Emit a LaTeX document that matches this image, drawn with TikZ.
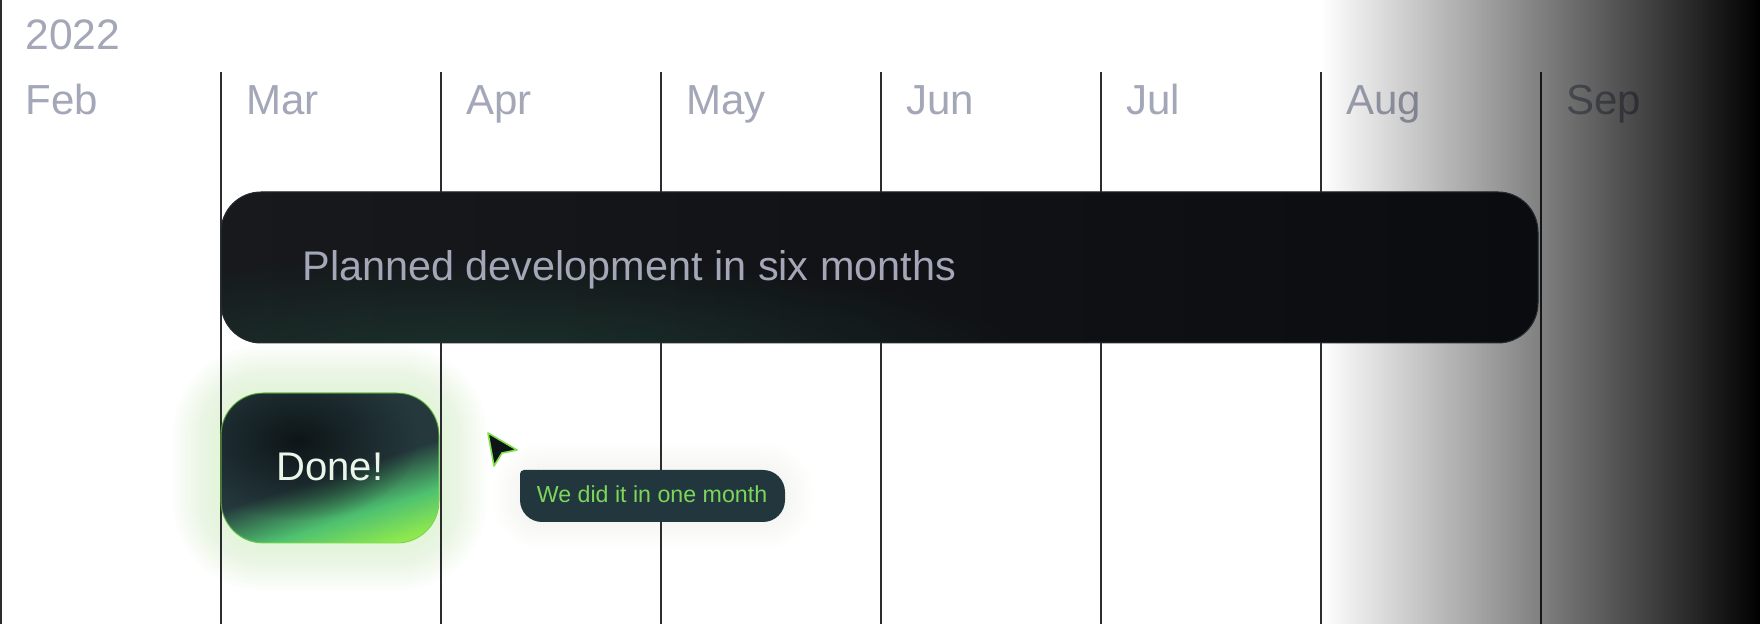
\documentclass[tikz,border=0pt]{standalone}
\usepackage{fontspec}
\setmainfont{Liberation Sans}
\usetikzlibrary{positioning}
\usetikzlibrary{calc}
\usetikzlibrary{fadings}

\definecolor{labelgray}{HTML}{A3A7B7}
\definecolor{lineDark}{HTML}{2B2C30}
\definecolor{planTop}{HTML}{17191C}
\definecolor{planRight}{HTML}{0B0C0F}
\definecolor{planTint}{HTML}{1D3B32}
\definecolor{planEdge}{HTML}{262C31}
\definecolor{doneTeal}{HTML}{25393D}
\definecolor{doneMid}{HTML}{4FC270}
\definecolor{doneGreen}{HTML}{8EE84E}
\definecolor{doneDark}{HTML}{0E1518}
\definecolor{doneText}{HTML}{EAF6EA}
\definecolor{glowGreen}{HTML}{D6F5C8}
\definecolor{tipFill}{HTML}{21373D}
\definecolor{tipText}{HTML}{7CD65A}
\definecolor{cursorEdge}{HTML}{7EE04A}

\tikzfading[name=fadeeast, left color=transparent!100, right color=transparent!0]
\tikzfading[name=fuzzyspot, inner color=transparent!0, outer color=transparent!100]
\pgfdeclareverticalshading{donefill}{100bp}{color(0bp)=(doneGreen); color(23bp)=(doneGreen); color(34bp)=(doneMid); color(48bp)=(doneTeal); color(100bp)=(doneTeal)}

\tikzset{gridline/.style={draw=lineDark, line width=1pt}}
\tikzset{year/.style={anchor=base west, inner sep=0pt, text=labelgray, font=\fontsize{21.3}{24}\selectfont}}
\tikzset{month/.style={year, font=\fontsize{21}{24}\selectfont}}
\tikzset{plantext/.style={anchor=base west, inner sep=0pt, text=labelgray, font=\fontsize{20.7}{24}\selectfont}}
\tikzset{donetext/.style={anchor=base, inner sep=0pt, text=doneText, font=\fontsize{20}{24}\selectfont}}
\tikzset{tiptext/.style={anchor=base, inner sep=0pt, text=tipText, font=\fontsize{11.6}{14}\selectfont}}
\tikzset{glow/.style={fill=glowGreen, fill opacity=0.05}}
\tikzset{cursor/.style={fill=doneDark, draw=cursorEdge, line width=0.8pt, line join=round}}

\begin{document}
\begin{tikzpicture}[x=0.5pt, y=0.5pt]

    \useasboundingbox (0,0) rectangle (1760,624);
    \fill[white] (0,0) rectangle (1760,624);

    % Glow behind the done box and the tooltip
    \foreach \g in {3,6,...,48} {
        \fill[glow, rounded corners={21pt+0.5*\g pt}] (221-\g,81-\g) rectangle (439+\g,231+\g);
    }
    \foreach \g in {3,6,...,27} {
        \fill[glow, fill opacity=0.02, rounded corners={11pt+0.5*\g pt}] (520-\g,102-\g) rectangle (785+\g,154+\g);
    }

    % Month lines
    \draw[gridline] (1,0) -- (1,624);
    \draw[gridline] (221,552) -- (221,0);
    \draw[gridline] (441,552) -- (441,0);
    \draw[gridline] (661,552) -- (661,0);
    \draw[gridline] (881,552) -- (881,0);
    \draw[gridline] (1101,552) -- (1101,0);
    \draw[gridline] (1321,552) -- (1321,0);
    \draw[gridline] (1541,552) -- (1541,0);

    % Labels
    \node[year] (year) at (25,574) {2022};
    \node[month] (feb) at (25,509) {Feb};
    \node[month] (mar) at (246,509) {Mar};
    \node[month] (apr) at (466,509) {Apr};
    \node[month] (may) at (686,509) {May};
    \node[month] (jun) at (906,509) {Jun};
    \node[month] (jul) at (1126,509) {Jul};
    \node[month] (aug) at (1346,509) {Aug};
    \node[month] (sep) at (1566,509) {Sep};

    % Dark fade on the right
    \fill[black, path fading=fadeeast] (1321,0) rectangle (1760,624);

    % Planned bar
    \fill[left color=planTop, right color=planRight, rounded corners=20pt] (221,281) rectangle (1538,432);
    \begin{scope}
        \clip[rounded corners=20pt] (221,281) rectangle (1538,432);
        \fill[planTint, fill opacity=0.8, path fading=fuzzyspot] (480,262) ellipse (560 and 110);
    \end{scope}
    \draw[planEdge, line width=0.5pt, rounded corners=20pt] (221,281) rectangle (1538,432);
    \node[plantext] (plan) at (302,343) {Planned development in six months};

    % Done box
    \fill[shading=donefill, shading angle=18, rounded corners=21pt] (221,81) rectangle (439,231);
    \begin{scope}
        \clip[rounded corners=21pt] (221,81) rectangle (439,231);
        \fill[doneDark, path fading=fuzzyspot] (298,184) ellipse (120 and 80);
    \end{scope}
    \draw[cursorEdge, draw opacity=0.6, line width=0.6pt, rounded corners=21pt] (221,81) rectangle (439,231);
    \node[donetext] (done) at (330,143) {Done!};

    % Cursor
    \filldraw[cursor] (488,191) -- (517,174) -- (502,171) -- (494,158) -- cycle;

    % Tooltip
    \fill[tipFill, rounded corners=11pt] (520,102) rectangle (785,154);
    \fill[tipFill, rounded corners=2pt] (520,130) rectangle (545,154);
    \node[tiptext] (tip) at (652,121) {We did it in one month};

\end{tikzpicture}
\end{document}
